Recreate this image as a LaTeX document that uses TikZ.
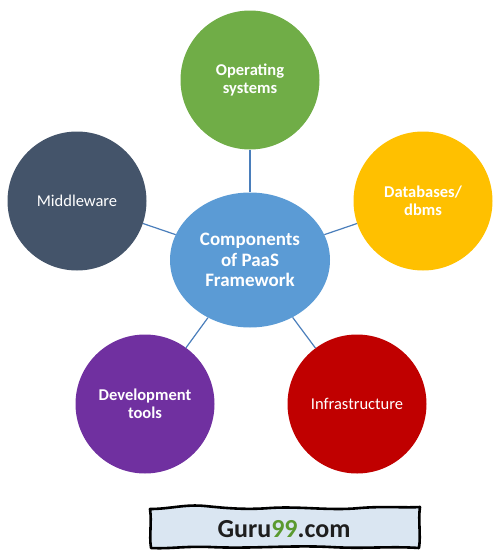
\documentclass[tikz,border=0pt]{standalone}
\usepackage{fontspec}
\setmainfont{Carlito}
\usetikzlibrary{shapes.geometric}
\definecolor{osgreen}{HTML}{70AD47}
\definecolor{dbgold}{HTML}{FFC000}
\definecolor{infrared}{HTML}{C00000}
\definecolor{devpurple}{HTML}{7030A0}
\definecolor{midslate}{HTML}{44546A}
\definecolor{paasblue}{HTML}{5B9BD5}
\definecolor{linkblue}{HTML}{4A7EBB}
\definecolor{logofill}{HTML}{DAE6F2}
\definecolor{logogreen}{HTML}{5A9A2F}
\definecolor{logotext}{HTML}{1E1E1E}
\begin{document}
\begin{tikzpicture}
[
    x=1pt, y=-1pt,
    bubble/.style={circle, minimum size=139pt, inner sep=0pt, text=white, align=center,
        font=\fontsize{16.5}{18}\selectfont},
    boldbubble/.style={bubble, font=\bfseries\fontsize{16.5}{17.5}\selectfont},
    hub/.style={ellipse, fill=paasblue, minimum width=160pt, minimum height=135pt,
        inner sep=0pt, text=white, align=center, font=\bfseries\fontsize{19}{20.5}\selectfont},
    link/.style={draw=linkblue, line width=1.2pt}
]
    \useasboundingbox (0,0) rectangle (498,560);

    \node [hub] (paas) at (250,260) {Components\\of PaaS\\Framework};

    \node [boldbubble, fill=osgreen] (os) at (250,80) {Operating\\systems};
    \node [boldbubble, fill=dbgold] (db) at (423,201) {Databases/\\dbms};
    \node [bubble, fill=infrared] (infra) at (357,404) {Infrastructure};
    \node [boldbubble, fill=devpurple] (dev) at (145,404) {Development\\tools};
    \node [bubble, fill=midslate] (mid) at (77,201) {Middleware};

    \draw [link] (paas) -- (os);
    \draw [link] (paas) -- (db);
    \draw [link] (paas) -- (infra);
    \draw [link] (paas) -- (dev);
    \draw [link] (paas) -- (mid);

    % logo banner
    \draw [fill=logofill, line width=2.6pt, line join=round]
        (150,509) .. controls (170,509) and (185,504) .. (205,506)
        .. controls (225,508) and (245,510) .. (270,508)
        .. controls (300,506) and (330,511) .. (360,508)
        .. controls (385,506) and (405,508) .. (420,507)
        .. controls (418,520) and (421,535) .. (419,548)
        .. controls (390,546) and (365,549) .. (330,547)
        .. controls (290,545) and (250,549) .. (210,547)
        .. controls (185,546) and (170,549) .. (151,548)
        .. controls (149,535) and (152,522) .. (150,509) -- cycle;
    \node [font=\bfseries\fontsize{26}{28}\selectfont, text=logotext] (logo) at (284,529)
        {Guru\textcolor{logogreen}{99}.com};
\end{tikzpicture}
\end{document}
